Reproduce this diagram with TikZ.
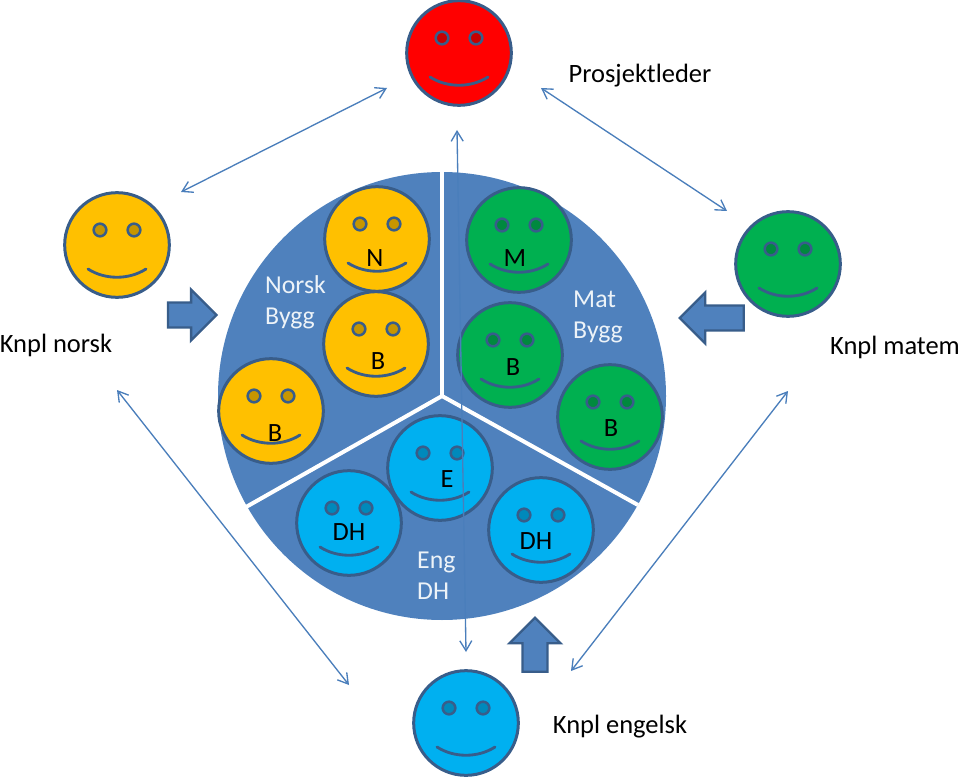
\documentclass[tikz,border=0pt]{standalone}
\usepackage{fontspec}
\setmainfont{Carlito}
\usetikzlibrary{arrows.meta,shapes.arrows}
\definecolor{discblue}{HTML}{4F81BD}
\definecolor{edgeblue}{HTML}{385D8A}
\definecolor{arrowblue}{HTML}{4A7EBB}
\definecolor{faceorange}{HTML}{FFC000}
\definecolor{facegreen}{HTML}{00B050}
\definecolor{faceblue}{HTML}{00B0F0}
\definecolor{facered}{HTML}{FF0000}
\tikzset{
	face/.style={circle,draw=edgeblue,line width=0.9mm,minimum size=31.4mm,inner sep=0pt},
	eye/.style={circle,draw=edgeblue,line width=0.75mm,minimum size=3.8mm,inner sep=0pt},
	smile/.style={draw=edgeblue,line width=0.85mm,line cap=round},
	link/.style={draw=arrowblue,line width=0.4mm,{Straight Barb[length=3mm,width=3.6mm]}-{Straight Barb[length=3mm,width=3.6mm]}},
	split/.style={draw=white,line width=1.2mm},
	blockarrow/.style={single arrow,draw=edgeblue,fill=discblue,line width=0.7mm,inner xsep=0pt,inner ysep=3.4mm,
		minimum width=14.6mm,single arrow head extend=3.9mm,single arrow head indent=0mm},
	title/.style={font=\fontsize{22.6}{26}\selectfont,text=black,inner sep=0pt},
	letter/.style={font=\fontsize{22.5}{24}\selectfont,text=black,inner sep=0pt},
	subject/.style={font=\fontsize{22}{26.6}\selectfont,text=white!90!discblue,align=left,anchor=west,inner sep=0pt},
}
\begin{document}
\begin{tikzpicture}[x=0.3mm,y=-0.3mm]
	\useasboundingbox (0,0) rectangle (960,781);
	% disc with the three sectors
	\fill [discblue] (442,396) circle (224);
	\coordinate (hub) at (442,396);
	\coordinate (splittop) at (442,168);
	\coordinate (splitright) at (638,505);
	\coordinate (splitleft) at (246,507);
	\draw [split] (hub) -- (splittop);
	\draw [split] (hub) -- (splitright);
	\draw [split] (hub) -- (splitleft);
	% faces
	\foreach \name/\x/\y/\col in {
		leader/459/53/facered,
		norsk/117/245/faceorange,
		matem/788/264/facegreen,
		engelsk/466/723/faceblue,
		nN/377/239/faceorange,
		nB/376/344/faceorange,
		nC/271/411/faceorange,
		mM/519/240/facegreen,
		mB/510/355/facegreen,
		mC/610/417/facegreen,
		eE/440/468/faceblue,
		eD/349/523/faceblue,
		eH/541/530/faceblue} {
		\node [face,fill=\col] (\name) at (\x,\y) {};
		\node [eye,fill=\col!78!black] (\name eyeL) at (\x-17,\y-15) {};
		\node [eye,fill=\col!78!black] (\name eyeR) at (\x+17,\y-15) {};
		\draw [smile] (\x-29,\y+24) .. controls (\x-12,\y+35) and (\x+12,\y+35) .. (\x+29,\y+24);
	}
	% letters on the faces
	\node [letter] (lblN) at (375,258) {N};
	\node [letter] (lblnB) at (378,361) {B};
	\node [letter] (lblnC) at (275,433) {B};
	\node [letter] (lblM) at (515,258) {M};
	\node [letter] (lblmB) at (513,367) {B};
	\node [letter] (lblmC) at (611,428) {B};
	\node [letter] (lblE) at (447,479) {E};
	\node [letter] (lblD) at (349,532) {DH};
	\node [letter] (lblH) at (536,541) {DH};
	% sector names
	\node [subject] (norskbygg) at (265,302) {Norsk\\Bygg};
	\node [subject] (matbygg) at (573,317) {Mat\\Bygg};
	\node [subject] (engdh) at (417,576) {Eng\\DH};
	% outer labels
	\node [title] (lblleader) at (640,76) {Prosjektleder};
	\node [title] (lblnorsk) at (56,345) {Knpl norsk};
	\node [title] (lblmatem) at (895,347) {Knpl matem};
	\node [title] (lblengelsk) at (620,727) {Knpl engelsk};
	% block arrows towards the disc
	\node [blockarrow,minimum height=14.6mm] (intonorsk) at (186,315) {};
	\node [blockarrow,minimum height=19.2mm,rotate=180] (intomat) at (718,318) {};
	\node [blockarrow,minimum height=16.2mm,rotate=90] (intoeng) at (535,651) {};
	% thin links between the teachers
	\coordinate (a1) at (181,192);
	\coordinate (a2) at (387,88);
	\coordinate (b1) at (541,88);
	\coordinate (b2) at (727,211);
	\coordinate (c1) at (457,130);
	\coordinate (c2) at (466,652);
	\coordinate (d1) at (117,390);
	\coordinate (d2) at (349,685);
	\coordinate (e1) at (788,391);
	\coordinate (e2) at (571,671);
	\draw [link] (a1) -- (a2);
	\draw [link] (b1) -- (b2);
	\draw [link] (c1) -- (c2);
	\draw [link] (d1) -- (d2);
	\draw [link] (e1) -- (e2);
\end{tikzpicture}
\end{document}
